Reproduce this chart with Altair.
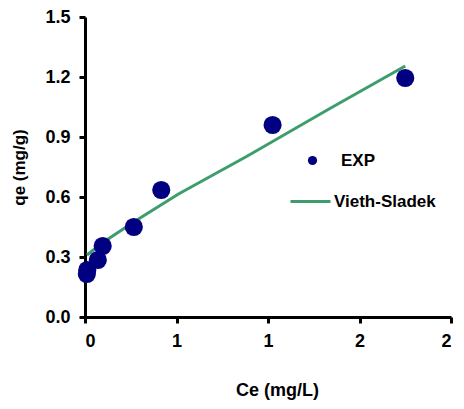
import altair as alt
import pandas as pd

# Experimental points (Ce mg/L, qe mg/g)
exp_ce = [0.012, 0.015, 0.084, 0.116, 0.32, 0.50, 1.23, 2.10]
exp_qe = [0.215, 0.235, 0.285, 0.355, 0.45, 0.635, 0.96, 1.195]

# Vieth-Sladek model curve
fit_ce = [0.013, 0.08, 0.142, 0.33, 0.613, 1.065, 1.6, 2.10]
fit_qe = [0.31, 0.35, 0.385, 0.48, 0.615, 0.805, 1.04, 1.255]

x_ticks = [0, 0.6, 1.2, 1.8, 2.4]
y_ticks = [0, 0.3, 0.6, 0.9, 1.2, 1.5]

exp_df = pd.DataFrame({"Ce": exp_ce, "qe": exp_qe, "s": "EXP"})
fit_df = pd.DataFrame({"Ce": fit_ce, "qe": fit_qe, "s": "Vieth-Sladek"})

FONT = "Liberation Sans"

x_enc = alt.X("Ce:Q", scale=alt.Scale(domain=[0, 2.4], nice=False, zero=False),
              axis=alt.Axis(values=x_ticks, format=".0f", title="Ce (mg/L)",
                            titlePadding=31, titleX=192, labelPadding=9))
y_enc = alt.Y("qe:Q", scale=alt.Scale(domain=[0, 1.5], nice=False),
              axis=alt.Axis(values=y_ticks, format=".1f", title="qe (mg/g)",
                            titlePadding=16, labelPadding=9, titleFontSize=17))

line = alt.Chart(fit_df).mark_line(strokeWidth=3).encode(
    x=x_enc, y=y_enc,
    color=alt.Color("s:N", scale=alt.Scale(domain=["Vieth-Sladek"], range=["#3d9d6c"]),
                    legend=alt.Legend(title=None, orient="none", legendX=204, legendY=163,
                                      symbolType="stroke", symbolSize=1600,
                                      symbolStrokeWidth=3, labelOffset=2,
                                      labelFont=FONT, labelFontSize=17,
                                      labelFontWeight="bold", labelColor="black")),
    order="Ce:Q",
)

pts = alt.Chart(exp_df).mark_point(filled=True, opacity=1, size=330).encode(
    x=x_enc, y=y_enc,
    color=alt.Color("s:N", scale=alt.Scale(domain=["EXP"], range=["#000080"]),
                    legend=alt.Legend(title=None, orient="none", legendX=219, legendY=135,
                                      symbolType="circle", symbolSize=85,
                                      symbolOpacity=1, labelOffset=20,
                                      labelFont=FONT, labelFontSize=17,
                                      labelFontWeight="bold", labelColor="black")),
)

chart = alt.layer(line, pts).resolve_scale(color="independent").properties(
    width=366, height=300,
    autosize=alt.AutoSizeParams(type="none"),
    padding={"left": 77, "top": 9, "right": 5, "bottom": 92},
).configure_view(stroke=None).configure_axis(
    grid=False, domainColor="black", domainWidth=3, tickColor="black",
    tickWidth=3, tickSize=6, labelFont=FONT, labelFontSize=18,
    labelFontWeight="bold", labelColor="black", titleFont=FONT,
    titleFontSize=18, titleFontWeight="bold", titleColor="black",
)

chart.save("out.html", embed_options={"renderer": "svg", "actions": False})
